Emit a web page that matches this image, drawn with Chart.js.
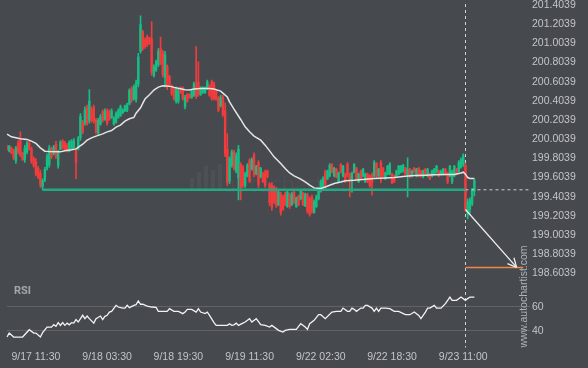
<!DOCTYPE html>
<html><head><meta charset="utf-8">
<script src="https://cdn.jsdelivr.net/npm/chart.js@4/dist/chart.umd.min.js"></script>
<style>html,body{margin:0;padding:0;background:#46494d;overflow:hidden}canvas{display:block}</style>
</head><body>
<canvas id="c" width="588" height="368"></canvas>
<script>
// ---- data ----
const sessions = [['2025-09-17T05:00Z', 128], ['2025-09-21T20:00Z', 52], ['2025-09-22T22:30Z', 56]];
const tickLabels = ['9/17 11:30', '9/18 03:30', '9/18 19:30', '9/19 11:30', '9/22 02:30', '9/22 18:30', '9/23 11:00'];
const priceTicks = [201.4039, 201.2039, 201.0039, 200.8039, 200.6039, 200.4039, 200.2039, 200.0039, 199.8039, 199.6039, 199.4039, 199.2039, 199.0039, 198.8039, 198.6039];
const rsiTicks = [60, 40];

const open = [
199.93,199.88,199.91,199.88,199.78,199.96,199.99,199.86,199.79,199.87,
199.96,199.90,199.80,199.77,199.70,199.65,199.51,199.58,199.70,199.74,
199.90,199.85,199.95,199.73,199.90,199.98,199.96,199.94,199.88,199.90,
199.92,199.89,199.90,200.02,200.18,200.17,200.33,200.20,200.32,200.33,
200.20,200.07,200.16,200.29,200.21,200.30,200.29,200.23,200.16,200.18,
200.23,200.25,200.28,200.30,200.30,200.37,200.53,200.42,200.42,200.58,
200.92,201.12,201.04,201.07,201.06,201.05,200.67,200.72,200.78,200.95,
200.90,200.65,200.76,200.66,200.56,200.53,200.40,200.40,200.54,200.53,
200.34,200.47,200.47,200.44,200.46,200.56,200.60,200.47,200.49,200.49,
200.53,200.56,200.60,200.58,200.50,200.43,200.35,200.44,200.30,199.90,
199.57,199.73,199.87,199.67,199.60,199.74,199.71,199.52,199.62,199.78,
199.69,199.84,199.64,199.76,199.61,199.65,199.66,199.67,199.53,199.52,
199.50,199.48,199.32,199.43,199.40,199.43,199.30,199.42,199.32,199.45,
199.30,199.41,199.38,199.44,199.31,199.42,199.38,199.40,199.24,199.30,
199.38,199.46,199.51,199.66,199.59,199.62,199.74,199.62,199.69,199.56,
199.74,199.62,199.64,199.74,199.63,199.58,199.66,199.70,199.56,199.67,
199.62,199.56,199.64,199.62,199.63,199.62,199.75,199.62,199.76,199.70,
199.59,199.64,199.64,199.64,199.62,199.62,199.64,199.66,199.67,199.70,
199.63,199.69,199.62,199.70,199.62,199.70,199.67,199.61,199.69,199.62,
199.64,199.62,199.64,199.66,199.67,199.64,199.64,199.69,199.65,199.62,
199.56,199.62,199.69,199.67,199.71,199.74,199.73,199.22,199.27,199.33,
199.46];
const high = [
199.94,199.94,199.92,199.90,199.93,199.99,200.08,199.87,199.94,199.98,
199.98,199.92,199.82,199.80,199.72,199.68,199.59,199.71,199.85,199.94,
199.92,199.94,199.98,199.89,199.99,200.00,199.98,199.96,199.99,200.00,
200.01,199.91,200.03,200.27,200.20,200.34,200.36,200.52,200.34,200.36,
200.22,200.22,200.26,200.31,200.32,200.32,200.31,200.32,200.24,200.29,
200.32,200.36,200.32,200.36,200.38,200.53,200.55,200.57,200.62,200.90,
201.29,201.14,201.06,201.09,201.07,201.23,200.78,200.83,200.95,201.07,
200.93,200.92,200.78,200.67,200.57,200.55,200.55,200.53,200.55,200.55,
200.46,200.48,200.48,200.52,200.60,200.97,200.81,200.55,200.55,200.55,
200.62,200.57,200.62,200.60,200.52,200.45,200.46,200.46,200.38,200.06,
199.82,199.89,199.89,199.86,199.94,199.76,199.73,199.66,199.75,199.80,
199.81,199.86,199.73,199.78,199.71,199.66,199.68,199.68,199.55,199.55,
199.52,199.50,199.47,199.45,199.42,199.45,199.47,199.44,199.45,199.47,
199.40,199.42,199.47,199.45,199.44,199.44,199.40,199.42,199.37,199.42,
199.49,199.58,199.61,199.68,199.68,199.75,199.75,199.71,199.70,199.66,
199.75,199.73,199.65,199.76,199.65,199.66,199.75,199.71,199.65,199.68,
199.70,199.65,199.65,199.63,199.65,199.78,199.76,199.70,199.78,199.71,
199.66,199.73,199.76,199.65,199.63,199.68,199.73,199.73,199.74,199.71,
199.81,199.70,199.68,199.71,199.70,199.71,199.68,199.68,199.70,199.70,
199.65,199.68,199.70,199.73,199.68,199.68,199.70,199.70,199.66,199.73,
199.68,199.73,199.70,199.78,199.81,199.85,199.75,199.38,199.39,199.49,
199.59];
const low = [
199.89,199.87,199.85,199.79,199.75,199.85,199.82,199.78,199.76,199.85,
199.89,199.75,199.71,199.62,199.59,199.50,199.47,199.56,199.68,199.71,
199.80,199.84,199.80,199.70,199.89,199.90,199.89,199.87,199.87,199.89,
199.91,199.59,199.89,199.99,200.06,200.15,200.15,200.17,200.18,200.17,
200.06,200.05,200.15,200.18,200.20,200.15,200.20,200.22,200.15,200.17,
200.22,200.24,200.27,200.29,200.29,200.36,200.39,200.41,200.39,200.55,
200.90,200.93,200.95,200.97,200.99,200.67,200.65,200.71,200.76,200.78,
200.65,200.55,200.52,200.57,200.46,200.41,200.38,200.38,200.48,200.41,
200.32,200.39,200.43,200.43,200.45,200.43,200.45,200.46,200.48,200.48,
200.52,200.45,200.41,200.41,200.41,200.29,200.34,200.24,199.82,199.52,
199.54,199.71,199.68,199.65,199.37,199.37,199.50,199.50,199.61,199.55,
199.68,199.61,199.63,199.50,199.60,199.55,199.50,199.60,199.31,199.26,
199.33,199.29,199.31,199.21,199.26,199.31,199.29,199.28,199.31,199.33,
199.29,199.31,199.37,199.31,199.30,199.23,199.20,199.23,199.23,199.29,
199.37,199.45,199.50,199.50,199.58,199.61,199.65,199.61,199.60,199.55,
199.65,199.61,199.55,199.61,199.40,199.45,199.65,199.58,199.55,199.58,
199.61,199.55,199.55,199.50,199.42,199.61,199.60,199.61,199.55,199.61,
199.58,199.63,199.63,199.54,199.55,199.61,199.63,199.65,199.66,199.63,
199.40,199.60,199.61,199.65,199.61,199.61,199.61,199.60,199.63,199.61,
199.58,199.61,199.63,199.65,199.61,199.63,199.63,199.63,199.54,199.61,
199.54,199.61,199.63,199.66,199.70,199.72,199.25,199.17,199.23,199.31,
199.41];
const close = [
199.90,199.93,199.86,199.81,199.91,199.87,199.84,199.79,199.91,199.96,
199.90,199.77,199.73,199.64,199.61,199.53,199.57,199.69,199.82,199.91,
199.82,199.92,199.82,199.86,199.97,199.91,199.90,199.88,199.97,199.98,
199.99,199.76,200.01,200.24,200.08,200.31,200.17,200.40,200.20,200.19,
200.08,200.20,200.24,200.20,200.30,200.17,200.21,200.30,200.22,200.27,
200.30,200.34,200.31,200.35,200.36,200.51,200.41,200.55,200.59,200.86,
201.20,200.95,200.97,200.99,201.00,200.70,200.76,200.81,200.92,200.80,
200.68,200.88,200.55,200.58,200.48,200.43,200.53,200.51,200.49,200.43,
200.44,200.40,200.44,200.50,200.58,200.45,200.47,200.54,200.54,200.54,
200.60,200.46,200.43,200.43,200.42,200.31,200.44,200.26,199.85,199.55,
199.80,199.87,199.70,199.83,199.90,199.50,199.52,199.64,199.73,199.57,
199.79,199.63,199.72,199.53,199.70,199.56,199.52,199.61,199.34,199.29,
199.35,199.31,199.45,199.24,199.27,199.32,199.45,199.30,199.43,199.34,
199.39,199.32,199.46,199.32,199.43,199.25,199.22,199.25,199.35,199.40,
199.47,199.56,199.59,199.53,199.67,199.73,199.66,199.70,199.61,199.65,
199.66,199.72,199.56,199.63,199.58,199.65,199.74,199.59,199.64,199.59,
199.69,199.64,199.56,199.52,199.55,199.76,199.62,199.69,199.58,199.62,
199.65,199.72,199.74,199.55,199.56,199.67,199.72,199.72,199.73,199.64,
199.69,199.61,199.67,199.66,199.69,199.62,199.62,199.67,199.64,199.69,
199.59,199.67,199.69,199.72,199.62,199.67,199.69,199.64,199.56,199.72,
199.66,199.72,199.64,199.76,199.79,199.83,199.27,199.35,199.37,199.47,
199.57];

const maBar = [0,2,6,9,11,13,15,17,19,24,26,29,31,34,36,38,40,43,45,47,49,51,53,55,57,58,60,61,62,64,66,68,70,73,75,78,80,82,84,87,91,93,96,97,99,100,102,105,107,109,111,114,116,118,120,123,125,127,129,132,134,136,138,141,143,145,147,150,152,156,161,165,170,174,179,183,188,192,197,201,204,205,206,207,208,210];
const maValue = [200.056,200.028,200.007,200.001,199.983,199.959,199.913,199.878,199.875,199.871,199.882,199.892,199.902,199.951,199.993,200.017,200.035,200.059,200.080,200.094,200.129,200.150,200.192,200.216,200.230,200.275,200.331,200.377,200.422,200.467,200.516,200.547,200.561,200.557,200.544,200.529,200.519,200.516,200.526,200.533,200.533,200.526,200.505,200.484,200.443,200.393,200.317,200.209,200.132,200.080,200.035,199.993,199.941,199.881,199.819,199.750,199.697,199.651,199.620,199.586,199.557,199.523,199.495,199.488,199.505,199.523,199.541,199.557,199.570,199.575,199.586,199.593,199.599,199.603,199.617,199.624,199.627,199.631,199.635,199.635,199.651,199.659,199.638,199.603,199.593,199.593];

const rsiBar = [0,1,3,7,10,12,13,15,16,18,20,21,22,23,24,25,26,27,28,29,30,31,32,34,35,36,37,39,40,42,43,44,45,46,47,49,50,52,53,54,55,57,58,59,60,61,63,65,67,68,72,73,75,77,79,80,81,83,85,86,87,89,90,91,93,94,96,99,100,101,102,103,104,106,107,109,110,112,114,116,118,119,121,122,124,125,127,130,132,134,135,136,138,140,141,143,146,148,150,151,153,154,155,156,157,159,160,161,162,164,165,166,167,168,170,172,174,176,179,181,183,185,186,188,189,190,192,193,195,197,199,200,202,204,206,207,208,210];
const rsiValue = [34.7,38,34.7,34.7,40.8,38,38,34.7,38.3,43,43,45,43.6,46.7,44.4,46.7,44.4,46.3,44.9,46.7,46.3,49.2,47.2,52.8,50,52.2,50,46.3,50,52.2,49.2,51.9,52.8,55.5,56.1,61.1,59.7,58.8,58.8,61.1,59.2,61.1,61.7,64.7,62,62,60.5,59.7,59.4,56.1,56.1,58.3,56.1,56.1,54.2,55.5,57.75,57.75,55.5,58.3,55.5,54.2,55.5,52.75,46.7,44.4,44.4,44.4,45.8,44.4,44.9,46.3,44.4,46.3,47.2,50,47.2,50,45,44.4,43,44.4,41.7,40.25,38.8,40.25,41.1,41.1,45.8,43,41.1,45.8,48.6,53.3,53.3,50,55.5,56.1,56.1,58.8,56.1,56.1,58.8,57.75,56.1,58.8,58.8,61.1,61.1,58.8,56.1,58.8,56.1,58.8,58.8,58.3,56.1,56.1,53.3,53.3,55.5,52.75,50,55.5,58.8,58.8,61.1,58.8,58.8,62.5,68,65.25,65.25,68,65.25,66.7,68,68];

const supportLevel = 199.475;
const supportFrom = '9/17 13:00';
const signalTime = '9/23 11:30';
const forecastFrom = 199.27;
const forecastTo = 198.665;
const forecastEnd = '9/23 23:00';
const targetEnd = '9/24 00:30';

// ---- build ----
const times = [];
for (const [start, n] of sessions) {
  const t0 = Date.parse(start);
  for (let k = 0; k < n; k++) {
    const d = new Date(t0 + k * 1800000);
    times.push((d.getUTCMonth() + 1) + '/' + d.getUTCDate() + ' ' +
      String(d.getUTCHours()).padStart(2, '0') + ':' + String(d.getUTCMinutes()).padStart(2, '0'));
  }
}
const lastTime = times[times.length - 1];

const BG = '#46494d', GREEN = '#17bd85', RED = '#f03c3c', TXT = '#c3c5c8';
const FONT = "'Liberation Sans', Arial, sans-serif";
Chart.defaults.font.family = FONT;
const cColors = close.map((c, i) => c >= open[i] ? GREEN : RED);

const decor = {
  id: 'decor',
  beforeDraw(chart) {
    const { ctx, width, height } = chart;
    ctx.save();
    ctx.fillStyle = BG;
    ctx.fillRect(0, 0, width, height);
    // faint logo
    ctx.fillStyle = 'rgba(255,255,255,0.045)';
    const bars = [[190, 178, 12], [197, 172, 18], [204, 166, 24], [211, 170, 20], [218, 164, 26]];
    for (const [bx, by, bh] of bars) ctx.fillRect(bx, by, 4, bh);
    ctx.font = '300 24px Lato, sans-serif';
    ctx.textBaseline = 'alphabetic';
    ctx.fillText('autochartist', 224, 192);
    ctx.restore();
  },
  beforeDatasetsDraw(chart) {
    const { ctx, chartArea, scales } = chart;
    const x = Math.round(scales.x.getPixelForValue(times.indexOf(signalTime))) + 0.5;
    ctx.save();
    ctx.strokeStyle = '#cfd1d3';
    ctx.lineWidth = 1;
    ctx.setLineDash([3, 3]);
    ctx.beginPath();
    ctx.moveTo(x, chartArea.top);
    ctx.lineTo(x, chartArea.bottom);
    ctx.stroke();
    ctx.restore();
  },
  afterDatasetsDraw(chart) {
    const { ctx } = chart;
    const idx = chart.data.datasets.findIndex(d => d.label === 'forecast');
    const pts = chart.getDatasetMeta(idx).data;
    const a = pts[0], b = pts[pts.length - 1];
    const ang = Math.atan2(b.y - a.y, b.x - a.x);
    ctx.save();
    ctx.strokeStyle = '#eeeeee';
    ctx.lineWidth = 1.3;
    ctx.beginPath();
    for (const s of [-0.45, 0.45]) {
      ctx.moveTo(b.x, b.y);
      ctx.lineTo(b.x - 10 * Math.cos(ang + s), b.y - 10 * Math.sin(ang + s));
    }
    ctx.stroke();
    ctx.restore();
  },
  afterDraw(chart) {
    const { ctx, scales } = chart;
    ctx.save();
    ctx.fillStyle = '#a3a7ac';
    ctx.font = 'bold 11px Roboto, sans-serif';
    ctx.textBaseline = 'middle';
    ctx.fillText('RSI', 14, scales.rsi.top + 6);
    ctx.translate(524, 296.5);
    ctx.rotate(-Math.PI / 2);
    ctx.fillStyle = '#b0b3b7';
    ctx.font = '10.5px ' + FONT;
    ctx.textAlign = 'center';
    ctx.fillText('www.autochartist.com', 0, 0);
    ctx.restore();
  }
};

const pt = (t, v) => ({ x: t, y: v });
const flatLine = { type: 'line', pointRadius: 0, tension: 0, fill: false };

new Chart(document.getElementById('c'), {
  data: {
    labels: times,
    datasets: [
      { ...flatLine, label: 'RSI', yAxisID: 'rsi', order: 1,
        data: rsiBar.map((b, i) => pt(times[b], rsiValue[i])), borderColor: '#f2f2f2', borderWidth: 1.3 },
      { ...flatLine, label: 'MA', yAxisID: 'y', order: 2,
        data: maBar.map((b, i) => pt(times[b], maValue[i])), borderColor: '#e4e4e4', borderWidth: 1.5 },
      { ...flatLine, label: 'support', yAxisID: 'y', order: 3,
        data: [pt(supportFrom, supportLevel), pt(signalTime, supportLevel)], borderColor: '#22aa84', borderWidth: 2.5 },
      { ...flatLine, label: 'level', yAxisID: 'y', order: 3,
        data: [pt(signalTime, supportLevel), pt(lastTime, supportLevel)], borderColor: '#cfd1d3', borderWidth: 1, borderDash: [3, 3] },
      { ...flatLine, label: 'target', yAxisID: 'y', order: 3,
        data: [pt(signalTime, forecastTo), pt(targetEnd, forecastTo)], borderColor: '#ea8a4c', borderWidth: 1.5 },
      { ...flatLine, label: 'forecast', yAxisID: 'y', order: 3,
        data: [pt(signalTime, forecastFrom), pt(forecastEnd, forecastTo)], borderColor: '#eeeeee', borderWidth: 1.3 },
      { type: 'bar', label: 'body', yAxisID: 'y', order: 8, grouped: false,
        data: open.map((o, i) => [o, close[i]]), backgroundColor: cColors, barThickness: 1.8, borderWidth: 0 },
      { type: 'bar', label: 'wick', yAxisID: 'y', order: 9, grouped: false,
        data: low.map((l, i) => [l, high[i]]), backgroundColor: cColors, barThickness: 1, borderWidth: 0 }
    ]
  },
  options: {
    responsive: false, animation: false, devicePixelRatio: 1, events: [],
    layout: { padding: { left: 7, top: 4, right: 0, bottom: 2 } },
    plugins: { legend: { display: false }, tooltip: { enabled: false } },
    scales: {
      x: {
        type: 'category', offset: false,
        grid: { display: false, drawTicks: false }, border: { display: false },
        ticks: {
          autoSkip: false, maxRotation: 0, minRotation: 0, color: TXT, padding: 3,
          font: { size: 10.5 },
          callback(v) { const t = this.getLabelForValue(v); return tickLabels.includes(t) ? t : null; }
        },
        afterFit(s) { s.paddingLeft = 0; s.paddingRight = 0; }
      },
      y: {
        position: 'right', stack: 'main', stackWeight: 281,
        min: 198.478, max: 201.4143,
        grid: { display: false, drawTicks: false }, border: { display: false },
        afterBuildTicks(s) { s.ticks = priceTicks.map(v => ({ value: v })); },
        ticks: { autoSkip: false, color: TXT, padding: 2, font: { size: 10.5 }, callback: v => Number(v).toFixed(4) },
        afterFit(s) { s.width = 58; s.paddingTop = 0; s.paddingBottom = 0; }
      },
      rsi: {
        position: 'right', stack: 'main', stackWeight: 62,
        min: 26.08, max: 77.75,
        grid: { color: '#606367', lineWidth: 1, drawTicks: false }, border: { display: false },
        afterBuildTicks(s) { s.ticks = rsiTicks.map(v => ({ value: v })); },
        ticks: { autoSkip: false, color: TXT, padding: 2, font: { size: 10.5 } },
        afterFit(s) { s.width = 58; s.paddingTop = 0; s.paddingBottom = 0; }
      }
    }
  },
  plugins: [decor]
});
</script>
</body></html>
